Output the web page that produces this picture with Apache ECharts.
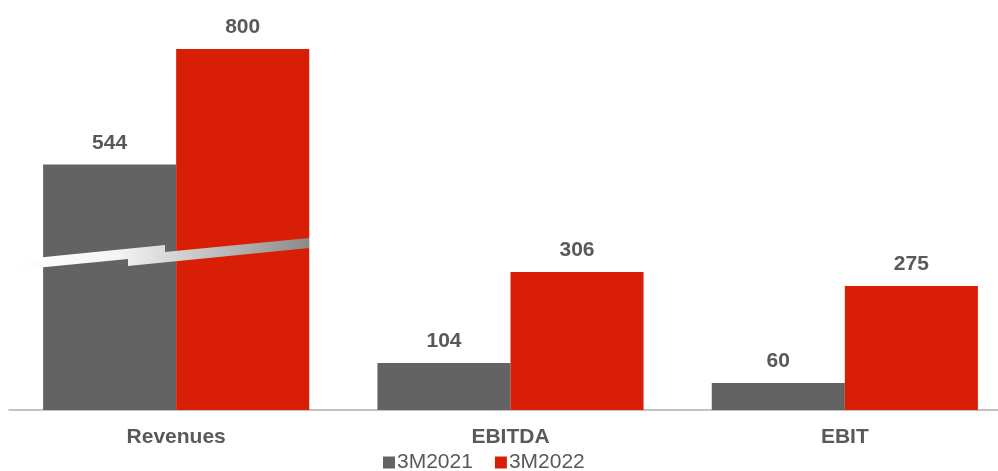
<!DOCTYPE html>
<html>
<head>
<meta charset="utf-8">
<script src="https://cdn.jsdelivr.net/npm/echarts@6/dist/echarts.min.js"></script>
<style>html,body{margin:0;padding:0;background:#fff;overflow:hidden;width:998px;height:471px}#c{width:1012px;height:471px}</style>
</head>
<body>
<div id="c"></div>
<script>
const categories = ['Revenues', 'EBITDA', 'EBIT'];
const series2021 = [544, 104, 60];
const series2022 = [800, 306, 275];
const seriesNames = ['3M2021', '3M2022'];

const chart = echarts.init(document.getElementById('c'));
const labelStyle = {
  show: true, position: 'top', distance: 11,
  fontFamily: 'Liberation Sans', fontWeight: 'bold', fontSize: 21, color: '#595959'
};
chart.setOption({
  animation: false,
  grid: { left: 9, right: 0, top: 49, bottom: 61 },
  legend: {
    left: 378, top: 447, itemWidth: 12, itemHeight: 12, itemGap: 22,
    icon: 'rect',
    textStyle: { fontFamily: 'Liberation Sans', fontSize: 21, color: '#595959', padding: [0, 0, 0, -3] },
    data: seriesNames
  },
  xAxis: {
    type: 'category', data: categories,
    axisLine: { lineStyle: { color: '#b0b0b0', width: 1.5 } },
    axisTick: { show: false },
    axisLabel: { margin: 17, fontFamily: 'Liberation Sans', fontWeight: 'bold', fontSize: 21, color: '#595959' }
  },
  yAxis: { type: 'value', min: 0, max: 800, show: false, splitLine: { show: false } },
  series: [
    { name: seriesNames[0], type: 'bar', data: series2021, barGap: '0%', barCategoryGap: '20.4%',
      itemStyle: { color: '#636363' }, label: labelStyle },
    { name: seriesNames[1], type: 'bar', data: series2022,
      itemStyle: { color: '#d81f05' }, label: labelStyle }
  ],
  graphic: [{
    type: 'polygon', z: 100,
    shape: { points: [[15,260],[165,245],[165,252],[309,238],[309,248],[128,266],[128,259],[15,270]] },
    style: {
      fill: new echarts.graphic.LinearGradient(0, 0, 1, 0, [
        { offset: 0, color: '#ffffff' },
        { offset: 0.35, color: '#f4f4f4' },
        { offset: 1, color: '#8a8a8a' }
      ])
    }
  }]
});
</script>
</body>
</html>
